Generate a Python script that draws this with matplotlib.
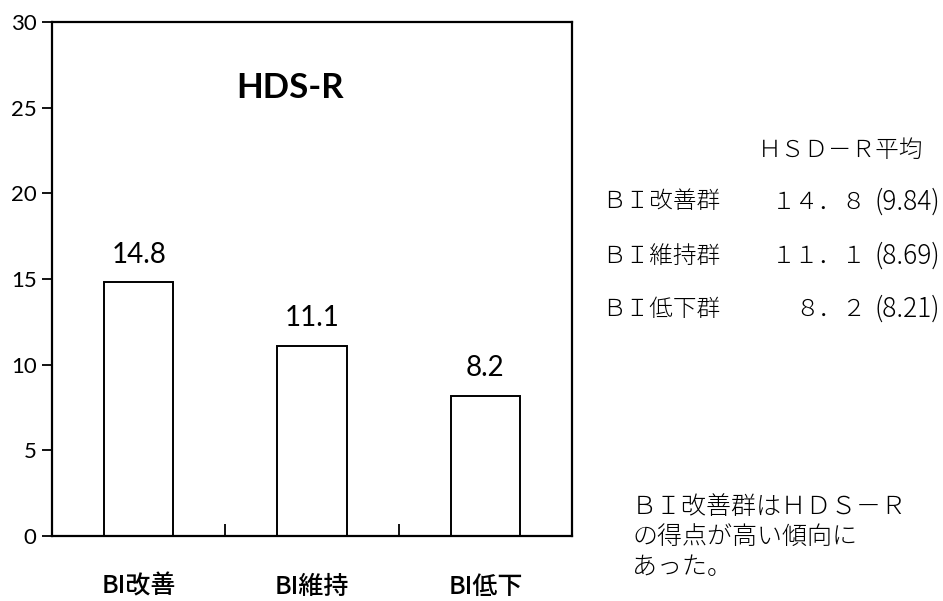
import matplotlib.pyplot as plt
from matplotlib.ticker import FixedLocator

# data
categories = ["BI改善", "BI維持", "BI低下"]
means = [14.8, 11.1, 8.2]
sds = [9.84, 8.69, 8.21]
group_names = ["ＢＩ改善群", "ＢＩ維持群", "ＢＩ低下群"]
yticks = [0, 5, 10, 15, 20, 25, 30]
chart_title = "HDS-R"
table_header = "ＨＳＤ－Ｒ平均"
note_lines = ["ＢＩ改善群はＨＤＳ－Ｒ", "の得点が高い傾向に", "あった。"]

W, H = 943, 601
jp = ["Noto Sans CJK JP", "DejaVu Sans"]
num_font = ["Lato", "DejaVu Sans"]


def px(x, y):
    # pixel position -> figure fraction
    return x / W, 1 - y / H


def to_fullwidth(s):
    return s.translate(str.maketrans("0123456789.", "０１２３４５６７８９．"))


fig = plt.figure(figsize=(W / 100, H / 100), dpi=100)
ax = fig.add_axes([52 / W, 1 - 536 / H, 520 / W, 514 / H])

x = list(range(len(categories)))
ax.bar(x, means, width=0.4, color="white", edgecolor="black", linewidth=1.4)
for i, v in enumerate(means):
    ax.annotate(f"{v}", (i, v), xytext=(0, 14), textcoords="offset points",
                ha="center", va="baseline", fontsize=20, family=num_font)

ax.set_xlim(-0.5, len(categories) - 0.5)
ax.set_ylim(0, 30)
ax.set_yticks(yticks)
ax.set_yticklabels([str(t) for t in yticks], family=num_font, fontsize=16)
ax.tick_params(axis="y", direction="out", length=7, width=1.3, pad=4)

ax.set_xticks(x)
ax.set_xticklabels(categories, family=jp, fontsize=18, fontweight="medium")
ax.tick_params(axis="x", which="major", length=0, pad=27)
ax.xaxis.set_minor_locator(FixedLocator([i + 0.5 for i in x[:-1]]))
ax.tick_params(axis="x", which="minor", direction="in", length=9, width=1.3)

for sp in ax.spines.values():
    sp.set_linewidth(1.6)

ax.text(0.458, 0.872, chart_title, transform=ax.transAxes, ha="center",
        va="center", fontsize=25, fontweight="bold", family=num_font)

# table on the right
fig.text(*px(923, 150), table_header, ha="right", va="center",
         fontsize=17, family=jp, fontweight="light")
row_y = [202, 256, 309]
for name, m, s, y in zip(group_names, means, sds, row_y):
    fig.text(*px(602, y), name, ha="left", va="center", fontsize=17,
             family=jp, fontweight="light")
    fig.text(*px(866, y), to_fullwidth(f"{m}"), ha="right", va="center",
             fontsize=17, family=jp, fontweight="light")
    fig.text(*px(940, y), f"({s:.2f})", ha="right", va="center",
             fontsize=19, family=jp, fontweight="light")

for line, y in zip(note_lines, [507, 537, 567]):
    fig.text(*px(632, y), line, ha="left", va="center", fontsize=18,
             family=jp, fontweight="light")

fig.savefig("out.png", dpi=100)
